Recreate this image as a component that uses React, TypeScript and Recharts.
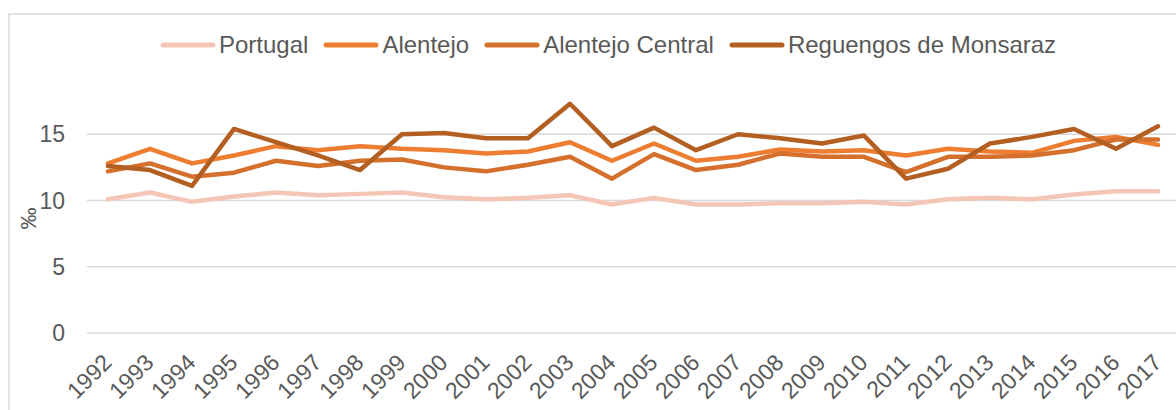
import React from 'react';
import { LineChart, Line, XAxis, YAxis, ReferenceLine } from 'recharts';

const years = [
  '1992', '1993', '1994', '1995', '1996', '1997', '1998', '1999', '2000', '2001', '2002', '2003', '2004',
  '2005', '2006', '2007', '2008', '2009', '2010', '2011', '2012', '2013', '2014', '2015', '2016', '2017',
];
const portugal = [10.1, 10.6, 9.9, 10.3, 10.6, 10.4, 10.5, 10.6, 10.25, 10.1, 10.2, 10.4, 9.7, 10.2, 9.7, 9.7, 9.8, 9.8, 9.9, 9.7, 10.1, 10.2, 10.1, 10.45, 10.7, 10.7];
const alentejo = [12.8, 13.9, 12.8, 13.4, 14.1, 13.8, 14.1, 13.9, 13.8, 13.55, 13.7, 14.4, 13.0, 14.3, 13.0, 13.3, 13.85, 13.7, 13.8, 13.4, 13.9, 13.7, 13.6, 14.5, 14.8, 14.2];
const alentejoCentral = [12.2, 12.8, 11.8, 12.1, 13.0, 12.6, 13.0, 13.1, 12.5, 12.2, 12.7, 13.3, 11.65, 13.5, 12.3, 12.7, 13.55, 13.3, 13.3, 12.15, 13.3, 13.3, 13.4, 13.8, 14.6, 14.6];
const reguengos = [12.6, 12.3, 11.1, 15.4, 14.4, 13.4, 12.3, 15.0, 15.1, 14.7, 14.7, 17.3, 14.1, 15.5, 13.8, 15.0, 14.7, 14.3, 14.9, 11.65, 12.4, 14.3, 14.8, 15.4, 13.9, 15.6];
const yTicks = [0, 5, 10, 15];

const series = [
  { key: 'portugal', name: 'Portugal', color: '#F5C6B6', values: portugal },
  { key: 'alentejo', name: 'Alentejo', color: '#ED7D31', values: alentejo },
  { key: 'central', name: 'Alentejo Central', color: '#D56F2C', values: alentejoCentral },
  { key: 'reguengos', name: 'Reguengos de Monsaraz', color: '#B45F22', values: reguengos },
];

const data = years.map((year, i) => {
  const row: Record<string, string | number> = { year };
  series.forEach(s => { row[s.key] = s.values[i]; });
  return row;
});

const FONT = '"Liberation Sans", Arial, sans-serif';
const TEXT = '#595959';
const GRID = '#D9D9D9';

const YearTick = ({ x, y, payload }: any) => {
  const ax = x + 5;
  const ay = y + 23;
  return (
    <text x={ax} y={ay} transform={`rotate(-45 ${ax} ${ay})`} textAnchor="end" fill={TEXT} fontSize={23} fontFamily={FONT}>
      {payload.value}
    </text>
  );
};

const PermilleLabel = ({ viewBox }: any) => {
  const lx = viewBox.x + 28;
  const ly = viewBox.y + viewBox.height / 2 + 18;
  return (
    <text x={lx} y={ly} transform={`rotate(-90 ${lx} ${ly})`} textAnchor="middle" dominantBaseline="central" fill={TEXT} fontSize={22} fontFamily={FONT}>
      ‰
    </text>
  );
};

const ChartLegend = () => (
  <div style={{ position: 'absolute', left: 160, top: 31, height: 28, display: 'flex', alignItems: 'center', fontFamily: FONT, fontSize: 24, color: TEXT, whiteSpace: 'nowrap' }}>
    {series.map(s => (
      <div key={s.key} style={{ display: 'flex', alignItems: 'center', marginRight: 15 }}>
        <svg width={56} height={8} style={{ marginRight: 3 }}>
          <line x1={3} y1={4} x2={53} y2={4} stroke={s.color} strokeWidth={5} strokeLinecap="round" />
        </svg>
        <span>{s.name}</span>
      </div>
    ))}
  </div>
);

export default function App() {
  return (
    <div style={{ position: 'fixed', left: 0, top: 0, width: 1176, height: 410, overflow: 'hidden', background: '#fff' }}>
      <div style={{ position: 'absolute', left: 8, top: 13, width: 1300, height: 500, border: `2px solid #E2E2E2` }} />
      <ChartLegend />
      <div style={{ position: 'absolute', left: 0, top: 0 }}>
        <LineChart width={1200} height={410} data={data} margin={{ top: 68, right: 21, bottom: 0, left: 0 }}>
          <XAxis
            dataKey="year"
            interval={0}
            padding={{ left: 21, right: 21 }}
            axisLine={false}
            tickLine={false}
            height={77}
            tick={<YearTick />}
          />
          <YAxis
            domain={[0, 20]}
            ticks={yTicks}
            width={87}
            axisLine={false}
            tickLine={false}
            tickMargin={16}
            tick={{ fill: TEXT, fontSize: 23, fontFamily: FONT }}
            label={<PermilleLabel />}
          />
          {yTicks.map(t => (
            <ReferenceLine key={t} y={t} stroke={GRID} strokeWidth={1.5} ifOverflow="visible" />
          ))}
          {series.map(s => (
            <Line
              key={s.key}
              type="linear"
              dataKey={s.key}
              name={s.name}
              stroke={s.color}
              strokeWidth={4.5}
              strokeLinecap="round"
              strokeLinejoin="round"
              dot={false}
              isAnimationActive={false}
            />
          ))}
        </LineChart>
      </div>
    </div>
  );
}
